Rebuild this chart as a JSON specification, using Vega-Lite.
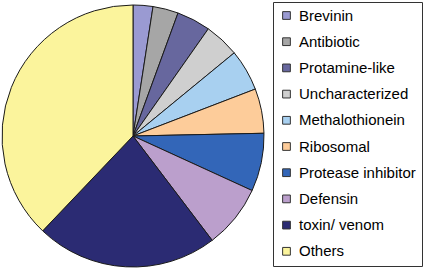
{
  "$schema": "https://vega.github.io/schema/vega-lite/v6.json",
  "width": 262,
  "height": 272,
  "padding": 0,
  "autosize": {"type": "pad"},
  "background": "white",
  "data": {
    "values": [
      {"idx": 1, "category": "Brevinin", "value": 8.8},
      {"idx": 2, "category": "Antibiotic", "value": 11.3},
      {"idx": 3, "category": "Protamine-like", "value": 15.0},
      {"idx": 4, "category": "Uncharacterized", "value": 15.5},
      {"idx": 5, "category": "Methalothionein", "value": 18.4},
      {"idx": 6, "category": "Ribosomal", "value": 19.8},
      {"idx": 7, "category": "Protease inhibitor", "value": 25.8},
      {"idx": 8, "category": "Defensin", "value": 28.2},
      {"idx": 9, "category": "toxin/ venom", "value": 80.8},
      {"idx": 10, "category": "Others", "value": 136.4}
    ]
  },
  "mark": {"type": "arc", "outerRadius": 131, "stroke": "#1a1a1a", "strokeWidth": 1},
  "encoding": {
    "theta": {"field": "value", "type": "quantitative", "stack": true},
    "order": {"field": "idx", "type": "quantitative"},
    "color": {
      "field": "category",
      "type": "nominal",
      "scale": {
        "domain": ["Brevinin", "Antibiotic", "Protamine-like", "Uncharacterized", "Methalothionein", "Ribosomal", "Protease inhibitor", "Defensin", "toxin/ venom", "Others"],
        "range": ["#9A9AD2", "#A6A6A6", "#67679E", "#CFCFCF", "#A8D0F0", "#FDCC9A", "#3366B8", "#BB9FCC", "#2B2B73", "#FBF49C"]
      },
      "legend": {
        "title": null,
        "orient": "none",
        "legendX": 271,
        "legendY": 2,
        "strokeColor": "#333333",
        "fillColor": "white",
        "padding": 6,
        "symbolType": "square",
        "symbolSize": 60,
        "symbolStrokeColor": "#333333",
        "symbolStrokeWidth": 1,
        "labelFont": "Liberation Sans",
        "labelFontSize": 15,
        "labelColor": "black",
        "rowPadding": 10.2,
        "labelOffset": 5,
        "labelLimit": 200
      }
    }
  },
  "config": {"view": {"stroke": null}}
}
